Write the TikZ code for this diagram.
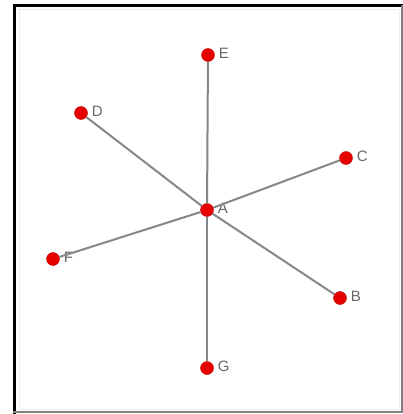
\documentclass[tikz,border=0pt]{standalone}
\usepackage{fontspec}
\setmainfont{Liberation Sans}
\usetikzlibrary{positioning}
\definecolor{dotred}{RGB}{230,0,0}
\definecolor{edgegray}{RGB}{135,135,135}
\definecolor{labelgray}{RGB}{105,105,105}

\begin{document}
\begin{tikzpicture}[x=1pt,y=-1pt,
  vertex/.style={
    circle,
    draw=dotred!80!black,
    fill=dotred,
    inner sep=0pt,
    minimum size=13pt,
    label={[text=labelgray,font=\fontsize{15}{15}\selectfont,inner sep=1pt,xshift=3pt,yshift=2pt]right:#1}
  }
]
  \useasboundingbox (0,0) rectangle (403,414);
  \fill[white] (0,0) rectangle (403,414);
  % frame
  \draw[black!7,line width=1pt] (19,10) rectangle (399,409);
  \draw[black,line width=3pt] (14.5,414) -- (14.5,5.5) -- (403,5.5);
  \draw[black!50,line width=2pt] (402,5) -- (402,412) -- (13,412);
  % graph
  \node[vertex=A] (A) at (207,210) {};
  \node[vertex=E] (E) at (208,55) {};
  \node[vertex=D] (D) at (81,113) {};
  \node[vertex=C] (C) at (346,158) {};
  \node[vertex=F] (F) at (53,259) {};
  \node[vertex=B] (B) at (340,298) {};
  \node[vertex=G] (G) at (207,368) {};
  \draw[edgegray,line width=2pt] (A)--(E);
  \draw[edgegray,line width=2pt] (A)--(D);
  \draw[edgegray,line width=2pt] (A)--(C);
  \draw[edgegray,line width=2pt] (A)--(F);
  \draw[edgegray,line width=2pt] (A)--(B);
  \draw[edgegray,line width=2pt] (A)--(G);
\end{tikzpicture}
\end{document}
